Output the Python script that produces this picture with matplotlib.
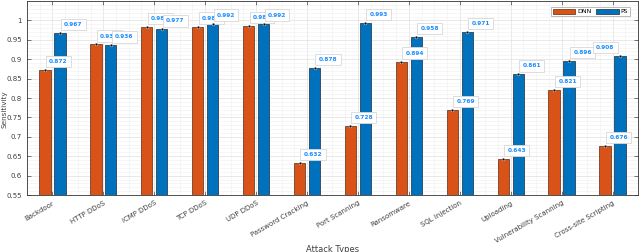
import numpy as np
import matplotlib.pyplot as plt
from matplotlib.ticker import MultipleLocator

# Attack categories and sensitivity values
attacks = ["Backdoor", "HTTP DDoS", "ICMP DDoS", "TCP DDoS", "UDP DDoS",
           "Password Cracking", "Port Scanning", "Ransomware", "SQL Injection",
           "Uploading", "Vulnerability Scanning", "Cross-site Scripting"]
dnn = [0.872, 0.938, 0.983, 0.984, 0.985, 0.632, 0.728, 0.894, 0.769, 0.643, 0.821, 0.676]
ps = [0.967, 0.936, 0.977, 0.992, 0.992, 0.878, 0.993, 0.958, 0.971, 0.861, 0.896, 0.908]

c_dnn = "#D95319"
c_ps = "#0072BD"
tip_col = "#1a8cff"

fig = plt.figure(figsize=(6.4, 2.52), dpi=100)
ax = fig.add_axes([0.042, 0.226, 0.955, 0.77])

x = np.arange(1, len(attacks) + 1)
w = 0.225
off = 0.147
ax.bar(x - off, dnn, w, color=c_dnn, edgecolor="#5a2a10", linewidth=0.5, label="DNN", zorder=3)
ax.bar(x + off, ps, w, color=c_ps, edgecolor="#1a2a40", linewidth=0.5, label="PS", zorder=3)

# data tips
def tip(xp, yp, z, left=False):
    ax.plot(xp, yp, "o", ms=2, color="black", mec="white", mew=0.3, zorder=z)
    dx = -4 if left else 3
    ax.annotate(f"{yp:.3f}", (xp, yp), xytext=(dx, 5), textcoords="offset points",
                ha="right" if left else "left",
                fontsize=4.2, color=tip_col, fontweight="bold", zorder=z,
                bbox=dict(boxstyle="square,pad=0.55", fc="white", ec="#d8d8d8", lw=0.6))

n = len(attacks)
for i in range(n):
    tip(x[i] - off, dnn[i], 5 + 2 * i)
    tip(x[i] + off, ps[i], 6 + 2 * i, left=(i == n - 1))

ax.set_xlim(0.5, n + 0.5)
ax.set_ylim(0.55, 1.05)
ax.set_yticks(np.arange(0.55, 1.001, 0.05))
ax.set_yticklabels(["0.55", "0.6", "0.65", "0.7", "0.75", "0.8", "0.85", "0.9", "0.95", "1"])
ax.yaxis.set_minor_locator(MultipleLocator(0.01))
ax.xaxis.set_minor_locator(MultipleLocator(0.25))
ax.set_xticks(x)
ax.set_xticklabels(attacks, rotation=30, ha="right", rotation_mode="anchor")
ax.tick_params(axis="both", which="major", labelsize=5, colors="#404040", direction="in",
               length=3, width=0.5, top=True, right=True)
ax.tick_params(axis="both", which="minor", length=0, top=True, right=True)
ax.grid(which="major", color="#e0e0e0", linewidth=0.5, zorder=0)
ax.grid(which="minor", color="#f0f0f0", linewidth=0.4, zorder=0)
ax.set_axisbelow(True)
for s in ax.spines.values():
    s.set_color("#333333")
    s.set_linewidth(0.6)

ax.set_xlabel("Attack Types", fontsize=6, color="#404040")
ax.xaxis.set_label_coords(0.5, -0.255)
ax.set_ylabel("Sensitivity", fontsize=5.2, color="#404040")
ax.yaxis.set_label_coords(-0.031, 0.44)

leg = ax.legend(loc="upper right", ncol=2, fontsize=4.5, frameon=True, fancybox=False,
                handlelength=3.6, handleheight=0.8, columnspacing=0.8, handletextpad=0.3,
                borderpad=0.3, bbox_to_anchor=(0.992, 0.985))
leg.get_frame().set_edgecolor("#888888")
leg.get_frame().set_linewidth(0.5)
leg.set_zorder(50)

fig.savefig("out.png", dpi=100)
